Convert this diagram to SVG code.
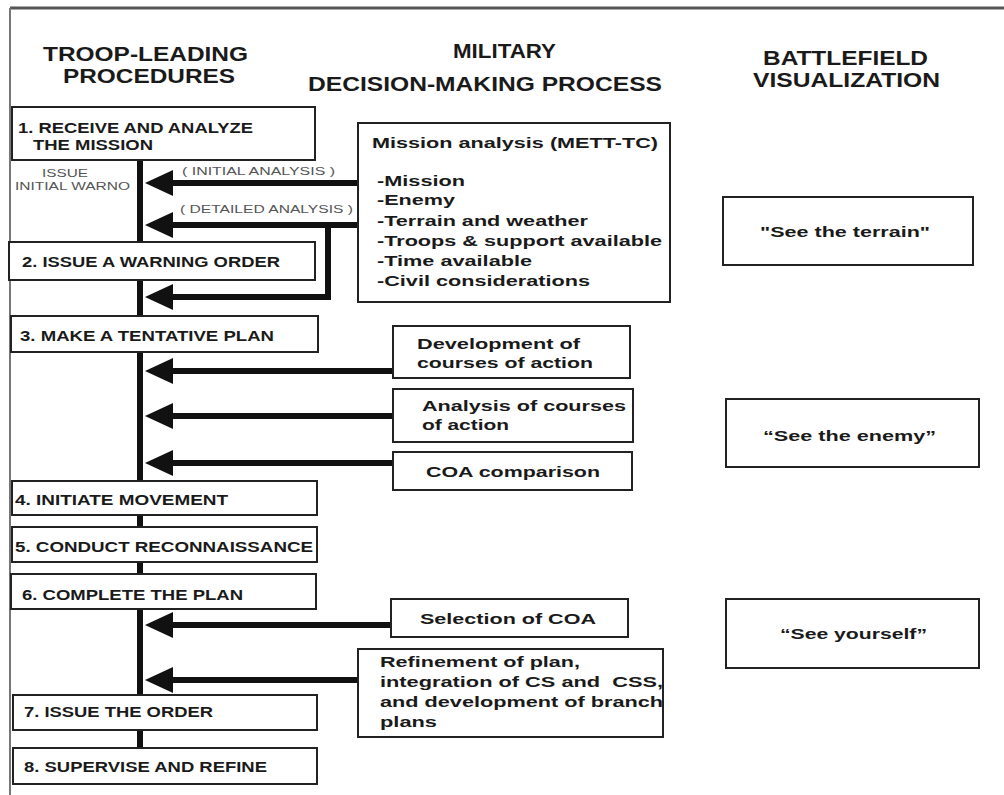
<svg xmlns="http://www.w3.org/2000/svg" width="1004" height="795" viewBox="0 0 1004 795">
<defs>
<style>
text{font-family:"Liberation Sans",Arial,sans-serif;fill:#1a1a1a}
.h{font-size:20px;font-weight:bold}
.s{font-size:14px;font-weight:bold}
.m{font-size:15px;font-weight:bold}
.sm{font-size:10px;fill:#555}
.box{fill:#fff;stroke:#222;stroke-width:2}
.sp{stroke:#111;stroke-width:6;fill:none}
.ar{stroke:#111;stroke-width:6;fill:none;marker-end:url(#ah)}
</style>
<marker id="ah" viewBox="0 0 28 26" refX="13" refY="13" markerWidth="28" markerHeight="26" markerUnits="userSpaceOnUse" orient="auto">
<path d="M0,0 L28,13 L0,26 z" fill="#111"/>
</marker>
</defs>
<rect width="1004" height="795" fill="#fff"/>
<g id="frame">
<line x1="10" y1="8" x2="1004" y2="8" stroke="#555" stroke-width="3"/>
<line x1="10" y1="8" x2="10" y2="795" stroke="#777" stroke-width="2"/>
</g>
<g id="headers">
<text class="h" x="43" y="61" textLength="205" lengthAdjust="spacingAndGlyphs">TROOP-LEADING</text>
<text class="h" x="63" y="83" textLength="172" lengthAdjust="spacingAndGlyphs">PROCEDURES</text>
<text class="h" x="453" y="58" textLength="103" lengthAdjust="spacingAndGlyphs">MILITARY</text>
<text class="h" x="308" y="91" textLength="354" lengthAdjust="spacingAndGlyphs">DECISION-MAKING PROCESS</text>
<text class="h" x="763" y="65" textLength="165" lengthAdjust="spacingAndGlyphs">BATTLEFIELD</text>
<text class="h" x="753" y="87" textLength="187" lengthAdjust="spacingAndGlyphs">VISUALIZATION</text>
</g>
<g id="connectors">
<line class="sp" x1="140" y1="160" x2="140" y2="242"/>
<line class="sp" x1="140" y1="280" x2="140" y2="316"/>
<line class="sp" x1="140" y1="352" x2="140" y2="481"/>
<line class="sp" x1="140" y1="515" x2="140" y2="527"/>
<line class="sp" x1="140" y1="562" x2="140" y2="574"/>
<line class="sp" x1="140" y1="609" x2="140" y2="695"/>
<line class="sp" x1="140" y1="730" x2="140" y2="748"/>
<line class="ar" x1="358" y1="183" x2="160" y2="183"/>
<line class="ar" x1="358" y1="225" x2="160" y2="225"/>
<polyline class="ar" points="328,225 328,297 160,297"/>
<line class="ar" x1="393" y1="371" x2="160" y2="371"/>
<line class="ar" x1="393" y1="416" x2="160" y2="416"/>
<line class="ar" x1="393" y1="463" x2="160" y2="463"/>
<line class="ar" x1="391" y1="625" x2="160" y2="625"/>
<line class="ar" x1="358" y1="680" x2="160" y2="680"/>
<text class="sm" x="182" y="175" textLength="153" lengthAdjust="spacingAndGlyphs">( INITIAL ANALYSIS )</text>
<text class="sm" x="180" y="213" textLength="173" lengthAdjust="spacingAndGlyphs">( DETAILED ANALYSIS )</text>
</g>
<g id="step1">
<rect class="box" x="12" y="107" width="303" height="53"/>
<text class="s" x="18" y="133" textLength="235" lengthAdjust="spacingAndGlyphs">1. RECEIVE AND ANALYZE</text>
<text class="s" x="33" y="150" textLength="120" lengthAdjust="spacingAndGlyphs">THE MISSION</text>
</g>
<g id="warno-note">
<text class="sm" x="65" y="177" text-anchor="middle" textLength="46" lengthAdjust="spacingAndGlyphs">ISSUE</text>
<text class="sm" x="15" y="190" textLength="115" lengthAdjust="spacingAndGlyphs">INITIAL WARNO</text>
</g>
<g id="step2">
<rect class="box" x="9" y="242" width="306" height="38"/>
<text class="s" x="22" y="267" textLength="258" lengthAdjust="spacingAndGlyphs">2. ISSUE A WARNING ORDER</text>
</g>
<g id="step3">
<rect class="box" x="11" y="316" width="307" height="36"/>
<text class="s" x="20" y="341" textLength="254" lengthAdjust="spacingAndGlyphs">3. MAKE A TENTATIVE PLAN</text>
</g>
<g id="step4">
<rect class="box" x="12" y="481" width="305" height="34"/>
<text class="s" x="15" y="505" textLength="213" lengthAdjust="spacingAndGlyphs">4. INITIATE MOVEMENT</text>
</g>
<g id="step5">
<rect class="box" x="12" y="527" width="305" height="35"/>
<text class="s" x="15" y="552" textLength="298" lengthAdjust="spacingAndGlyphs">5. CONDUCT RECONNAISSANCE</text>
</g>
<g id="step6">
<rect class="box" x="11" y="574" width="305" height="35"/>
<text class="s" x="22" y="600" textLength="221" lengthAdjust="spacingAndGlyphs">6. COMPLETE THE PLAN</text>
</g>
<g id="step7">
<rect class="box" x="13" y="695" width="304" height="35"/>
<text class="s" x="24" y="717" textLength="189" lengthAdjust="spacingAndGlyphs">7. ISSUE THE ORDER</text>
</g>
<g id="step8">
<rect class="box" x="13" y="748" width="304" height="36"/>
<text class="s" x="24" y="772" textLength="243" lengthAdjust="spacingAndGlyphs">8. SUPERVISE AND REFINE</text>
</g>
<g id="mission-analysis">
<rect class="box" x="358" y="123" width="312" height="179"/>
<text class="m" x="372" y="148" textLength="286" lengthAdjust="spacingAndGlyphs">Mission analysis (METT-TC)</text>
<text class="m" x="377" y="186" textLength="88" lengthAdjust="spacingAndGlyphs">-Mission</text>
<text class="m" x="377" y="205" textLength="78" lengthAdjust="spacingAndGlyphs">-Enemy</text>
<text class="m" x="377" y="226" textLength="211" lengthAdjust="spacingAndGlyphs">-Terrain and weather</text>
<text class="m" x="377" y="246" textLength="285" lengthAdjust="spacingAndGlyphs">-Troops &amp; support available</text>
<text class="m" x="377" y="266" textLength="155" lengthAdjust="spacingAndGlyphs">-Time available</text>
<text class="m" x="377" y="286" textLength="213" lengthAdjust="spacingAndGlyphs">-Civil considerations</text>
</g>
<g id="coa-development">
<rect class="box" x="393" y="326" width="237" height="52"/>
<text class="m" x="417" y="349" textLength="163" lengthAdjust="spacingAndGlyphs">Development of</text>
<text class="m" x="417" y="368" textLength="176" lengthAdjust="spacingAndGlyphs">courses of action</text>
</g>
<g id="coa-analysis">
<rect class="box" x="393" y="389" width="240" height="53"/>
<text class="m" x="422" y="411" textLength="204" lengthAdjust="spacingAndGlyphs">Analysis of courses</text>
<text class="m" x="422" y="430" textLength="87" lengthAdjust="spacingAndGlyphs">of action</text>
</g>
<g id="coa-comparison">
<rect class="box" x="393" y="452" width="239" height="38"/>
<text class="m" x="426" y="477" textLength="174" lengthAdjust="spacingAndGlyphs">COA comparison</text>
</g>
<g id="coa-selection">
<rect class="box" x="391" y="599" width="237" height="38"/>
<text class="m" x="420" y="624" textLength="176" lengthAdjust="spacingAndGlyphs">Selection of COA</text>
</g>
<g id="refinement">
<rect class="box" x="358" y="649" width="305" height="88"/>
<text class="m" x="380" y="667" textLength="200" lengthAdjust="spacingAndGlyphs">Refinement of plan,</text>
<text class="m" x="380" y="687" textLength="283" lengthAdjust="spacingAndGlyphs">integration of CS and&#160; CSS,</text>
<text class="m" x="380" y="707" textLength="283" lengthAdjust="spacingAndGlyphs">and development of branch</text>
<text class="m" x="380" y="727" textLength="57" lengthAdjust="spacingAndGlyphs">plans</text>
</g>
<g id="see-terrain">
<rect class="box" x="723" y="197" width="250" height="68"/>
<text class="m" x="760" y="237" textLength="170" lengthAdjust="spacingAndGlyphs">"See the terrain"</text>
</g>
<g id="see-enemy">
<rect class="box" x="726" y="399" width="253" height="68"/>
<text class="m" x="763" y="441" textLength="173" lengthAdjust="spacingAndGlyphs">“See the enemy”</text>
</g>
<g id="see-yourself">
<rect class="box" x="726" y="599" width="253" height="69"/>
<text class="m" x="780" y="639" textLength="147" lengthAdjust="spacingAndGlyphs">“See yourself”</text>
</g>
</svg>
